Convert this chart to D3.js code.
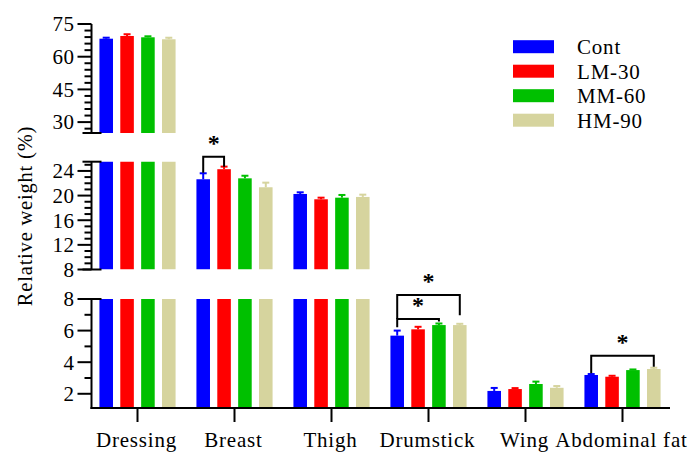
<!DOCTYPE html>
<html>
<head>
<meta charset="utf-8">
<script src="https://cdn.jsdelivr.net/npm/d3@7/dist/d3.min.js"></script>
<style>
html,body{margin:0;padding:0;background:#fff;}
</style>
</head>
<body>
<svg id="chart" width="693" height="452" font-family="'Liberation Serif', 'Times New Roman', Times, 'DejaVu Serif', serif"></svg>
<script>
// ---------- data ----------
const categories = ["Dressing", "Breast", "Thigh", "Drumstick", "Wing", "Abdominal fat"];
const seriesNames = ["Cont", "LM-30", "MM-60", "HM-90"];
const contMean = [68.26, 22.65, 20.26, 5.68, 2.18, 3.19];
const lm30Mean = [69.5, 24.28, 19.4, 6.08, 2.30, 3.08];
const mm60Mean = [68.9, 22.8, 19.66, 6.35, 2.62, 3.50];
const hm90Mean = [68.0, 21.35, 19.78, 6.35, 2.38, 3.57];
const contSE = [0.46, 0.97, 0.27, 0.32, 0.19, 0.06];
const lm30SE = [0.8, 0.42, 0.26, 0.16, 0.06, 0.06];
const mm60SE = [0.46, 0.42, 0.44, 0.10, 0.15, 0.04];
const hm90SE = [0.7, 0.75, 0.37, 0.08, 0.11, 0.08];
// broken y axis segments: value domains and tick labels
const segDomains = [[25, 75], [8, 25.5], [1.1, 8]];
const segMajorTicks = [[30, 45, 60, 75], [8, 12, 16, 20, 24], [2, 4, 6, 8]];
const segMinorTicks = [[27, 33, 36, 39, 42, 48, 51, 54, 57, 63, 66, 69, 72],
  [9, 10, 11, 13, 14, 15, 17, 18, 19, 21, 22, 23, 25],
  [3, 5, 7]];
// significance brackets: category, from series, to series, bracket level, leg end values
const brackets = [
  {cat: "Breast", from: "Cont", to: "LM-30", level: 26.3, endFrom: 23.72, endTo: 24.7},
  {cat: "Drumstick", from: "Cont", to: "MM-60", level: 6.73, endFrom: 6.21, endTo: 6.57},
  {cat: "Drumstick", from: "Cont", to: "HM-90", level: 8.25, endFrom: 6.73, endTo: 6.97},
  {cat: "Abdominal fat", from: "Cont", to: "HM-90", level: 4.41, endFrom: 3.30, endTo: 3.71}
];
const colors = ["#0000ff", "#ff0000", "#00c000", "#d6d49e"];

const means = [contMean, lm30Mean, mm60Mean, hm90Mean];
const ses = [contSE, lm30SE, mm60SE, hm90SE];

// ---------- layout ----------
const FONT = "'Liberation Serif', 'Times New Roman', Times, 'DejaVu Serif', serif";
const svg = d3.select("#chart");
const axisX = 91.5;
const segRanges = [[133, 24], [269.5, 161.7], [408, 299]];
const ys = segDomains.map((d, i) => d3.scaleLinear().domain(d).range(segRanges[i]));

const x = d3.scaleBand().domain(categories).range([89, 671]).paddingInner(0).paddingOuter(0);
const xs = d3.scaleBand().domain(seriesNames).range([0, x.bandwidth()]).paddingInner(0.35).paddingOuter(0.5);
const color = d3.scaleOrdinal().domain(seriesNames).range(colors);

const data = [];
categories.forEach((c, ci) => seriesNames.forEach((s, si) => {
  data.push({cat: c, ser: s, v: means[si][ci], se: ses[si][ci]});
}));

function txt(sel, size, ls) {
  return sel.attr("font-family", FONT).style("font-family", FONT)
    .style("font-size", size + "px").style("letter-spacing", ls + "px").attr("fill", "#000");
}

// clip paths per segment
const defs = svg.append("defs");
ys.forEach((y, i) => {
  defs.append("clipPath").attr("id", "seg" + i)
    .append("rect").attr("x", 0).attr("width", 693)
    .attr("y", y.range()[1]).attr("height", y.range()[0] - y.range()[1]);
});

// bars
ys.forEach((y, i) => {
  const [lo, hi] = y.domain();
  const g = svg.append("g").attr("clip-path", `url(#seg${i})`);
  g.selectAll("rect").data(data.filter(d => d.v > lo)).join("rect")
    .attr("x", d => x(d.cat) + xs(d.ser))
    .attr("width", xs.bandwidth())
    .attr("y", d => y(Math.min(d.v, hi + 1)))
    .attr("height", d => y(lo) - y(Math.min(d.v, hi + 1)))
    .attr("fill", d => color(d.ser));
});

// segment that holds a value (searched from the bottom segment up)
function segOf(v) {
  for (let i = ys.length - 1; i >= 0; i--) {
    const [lo, hi] = ys[i].domain();
    if (v >= lo && v <= hi + 1) return ys[i];
  }
  return ys[0];
}
const eg = svg.append("g");
data.forEach(d => {
  const y = segOf(d.v);
  const cx = x(d.cat) + xs(d.ser) + xs.bandwidth() / 2;
  eg.append("line").attr("x1", cx).attr("x2", cx)
    .attr("y1", y(d.v)).attr("y2", y(d.v + d.se))
    .attr("stroke", color(d.ser)).attr("stroke-width", 2);
  eg.append("line").attr("x1", cx - 3.5).attr("x2", cx + 3.5)
    .attr("y1", y(d.v + d.se)).attr("y2", y(d.v + d.se))
    .attr("stroke", color(d.ser)).attr("stroke-width", 2);
});

// y axis segments
ys.forEach((y, i) => {
  const g = svg.append("g");
  const [r0, r1] = y.range();
  g.append("line").attr("x1", axisX).attr("x2", axisX).attr("y1", r0 + (i === 2 ? 1 : 0)).attr("y2", r1)
    .attr("stroke", "#000").attr("stroke-width", 2);
  g.selectAll(".maj").data(segMajorTicks[i]).join("line")
    .attr("x1", axisX - 14).attr("x2", axisX).attr("y1", d => y(d)).attr("y2", d => y(d))
    .attr("stroke", "#000").attr("stroke-width", 2);
  g.selectAll(".min").data(segMinorTicks[i]).join("line")
    .attr("x1", axisX - 7).attr("x2", axisX).attr("y1", d => y(d)).attr("y2", d => y(d))
    .attr("stroke", "#000").attr("stroke-width", 2);
  txt(g.selectAll("text").data(segMajorTicks[i]).join("text"), 21, 0.5)
    .attr("x", axisX - 17).attr("y", d => y(d)).attr("dy", "0.35em")
    .attr("text-anchor", "end")
    .text(d => d);
  // break caps
  const caps = [];
  if (i > 0) caps.push(r1);
  if (i < 2) caps.push(r0);
  g.selectAll(".cap").data(caps).join("line")
    .attr("x1", axisX - 9).attr("x2", axisX + 10).attr("y1", d => d).attr("y2", d => d)
    .attr("stroke", "#000").attr("stroke-width", 2);
});

// x axis
const xg = svg.append("g");
xg.append("line").attr("x1", axisX - 1).attr("x2", 670).attr("y1", 408).attr("y2", 408)
  .attr("stroke", "#000").attr("stroke-width", 2);
xg.selectAll(".tk").data(categories).join("line")
  .attr("x1", d => x(d) + x.bandwidth() / 2).attr("x2", d => x(d) + x.bandwidth() / 2)
  .attr("y1", 408).attr("y2", 422).attr("stroke", "#000").attr("stroke-width", 2);
txt(xg.selectAll("text").data(categories).join("text"), 21, 0.8)
  .attr("x", d => x(d) + x.bandwidth() / 2 - 1).attr("y", 447)
  .attr("text-anchor", "middle")
  .text(d => d);

// y label
txt(svg.append("text"), 20.5, 0.8).attr("transform", "translate(32,216) rotate(-90)")
  .attr("text-anchor", "middle")
  .text("Relative weight (%)");

// significance brackets
const bg = svg.append("g");
brackets.forEach(b => {
  const y = segOf(b.level);
  const x1 = x(b.cat) + xs(b.from) + xs.bandwidth() / 2;
  const x2 = x(b.cat) + xs(b.to) + xs.bandwidth() / 2;
  const path = d3.path();
  path.moveTo(x1, y(b.endFrom)); path.lineTo(x1, y(b.level));
  path.lineTo(x2, y(b.level)); path.lineTo(x2, y(b.endTo));
  bg.append("path").attr("d", path.toString()).attr("fill", "none")
    .attr("stroke", "#000").attr("stroke-width", 2);
  txt(bg.append("text"), 24, 0).attr("x", (x1 + x2) / 2).attr("y", y(b.level) - 6)
    .attr("text-anchor", "middle").style("font-weight", "bold")
    .text("*");
});

// legend
const lg = svg.append("g");
seriesNames.forEach((s, i) => {
  const cy = 46.7 + 24.5 * i;
  lg.append("rect").attr("x", 513).attr("y", cy - 6.5).attr("width", 41).attr("height", 13)
    .attr("fill", color(s));
  txt(lg.append("text"), 21, 0.8).attr("x", 577).attr("y", cy).attr("dy", "0.35em").text(s);
});
</script>
</body>
</html>
